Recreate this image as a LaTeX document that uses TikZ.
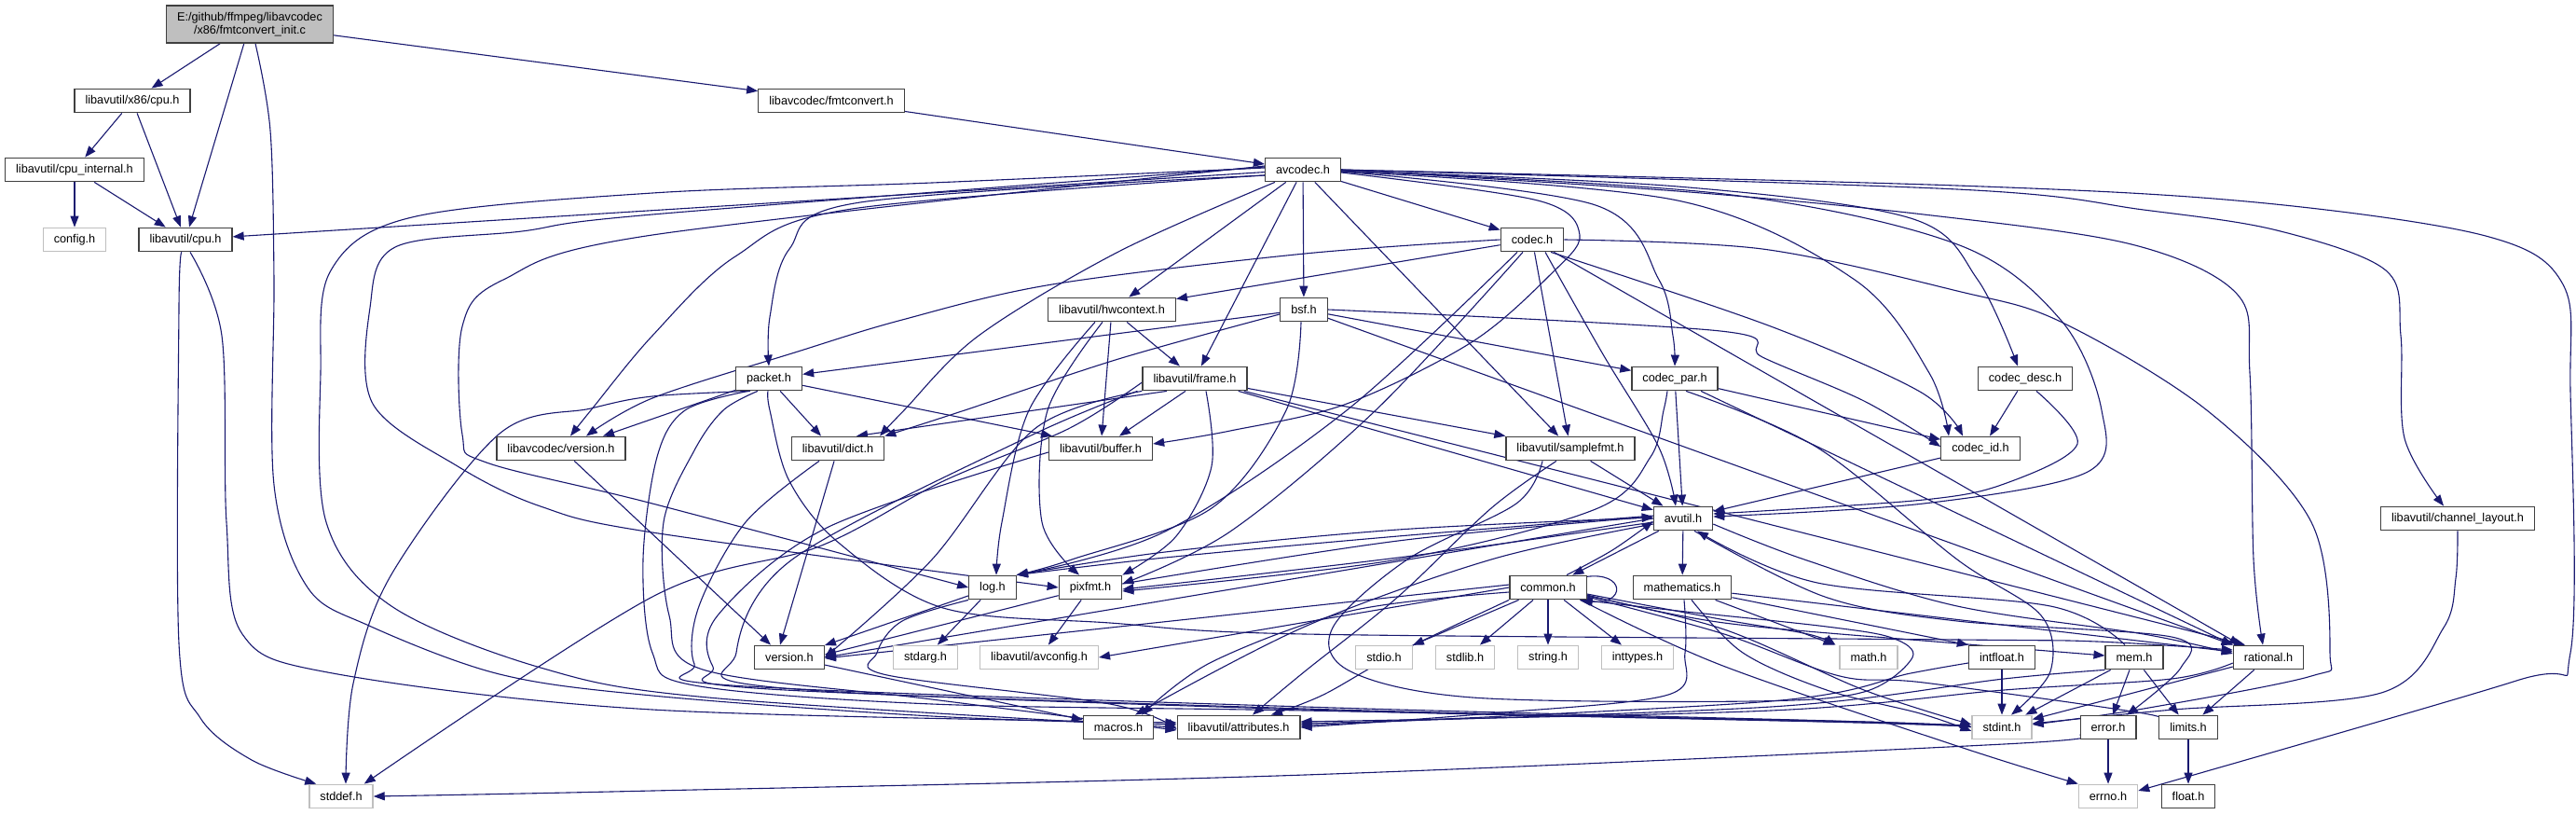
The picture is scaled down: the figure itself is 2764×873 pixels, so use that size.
\documentclass[tikz,border=0pt]{standalone}
\usepackage{fontspec}
\setmainfont{Liberation Sans}
\usetikzlibrary{arrows.meta,backgrounds}
\definecolor{edgec}{HTML}{191970}
\definecolor{nfgray}{HTML}{BFBFBF}
\pgfdeclarelayer{edgelayer}
\pgfsetlayers{background,edgelayer,main}
\newcommand\edgeroute[1]{\draw[e] plot[smooth,tension=.55] coordinates {#1};}
\begin{document}
\begin{tikzpicture}[x=1pt,y=-1pt,
  nd/.style={draw=black!75, line width=1.3pt, fill=white, inner xsep=11.5pt, inner ysep=0pt, minimum height=25.5pt, font=\fontsize{12.7pt}{14.5pt}\selectfont},
  gn/.style={nd, draw=nfgray},
  e/.style={draw=edgec, line width=1.1pt, -{Triangle[length=12pt,width=9pt]}},
]
\useasboundingbox (0,0) rectangle (2764,873);
\begin{pgfonlayer}{background}
\fill[white] (0,0) rectangle (2764,873);
\end{pgfonlayer}

% nodes
\node[nd, fill=nfgray, align=center, minimum height=40pt] (R) at (268,26) {E:/github/ffmpeg/libavcodec\\/x86/fmtconvert\_init.c};
\node[nd] (x86) at (142,108) {libavutil/x86/cpu.h};
\node[nd] (cpuint) at (80,182) {libavutil/cpu\_internal.h};
\node[gn] (config) at (80,257) {config.h};
\node[nd] (cpu) at (199,257) {libavutil/cpu.h};
\node[nd] (fmtc) at (892,108) {libavcodec/fmtconvert.h};
\node[nd] (A) at (1398,182) {avcodec.h};
\node[nd] (codec) at (1644,257) {codec.h};
\node[nd] (hw) at (1193,332) {libavutil/hwcontext.h};
\node[nd] (bsf) at (1399,332) {bsf.h};
\node[nd] (packet) at (825,406) {packet.h};
\node[nd] (frame) at (1282,406) {libavutil/frame.h};
\node[nd] (cpar) at (1797,406) {codec\_par.h};
\node[nd] (cdesc) at (2173,406) {codec\_desc.h};
\node[nd] (lcver) at (602,481) {libavcodec/version.h};
\node[nd] (dict) at (899,481) {libavutil/dict.h};
\node[nd] (buffer) at (1181,481) {libavutil/buffer.h};
\node[nd] (sfmt) at (1685,481) {libavutil/samplefmt.h};
\node[nd] (cid) at (2125,481) {codec\_id.h};
\node[nd] (avutil) at (1806,556) {avutil.h};
\node[nd] (chl) at (2637,556) {libavutil/channel\_layout.h};
\node[nd] (log) at (1065,630) {log.h};
\node[nd] (pixfmt) at (1170,630) {pixfmt.h};
\node[nd] (common) at (1661,630) {common.h};
\node[nd] (mathm) at (1805,630) {mathematics.h};
\node[nd] (uver) at (847,705) {version.h};
\node[gn] (stdarg) at (993,705) {stdarg.h};
\node[gn] (avconfig) at (1115,705) {libavutil/avconfig.h};
\node[gn] (stdio) at (1485,705) {stdio.h};
\node[gn] (stdlib) at (1572,705) {stdlib.h};
\node[gn] (string) at (1661,705) {string.h};
\node[gn] (inttypes) at (1757,705) {inttypes.h};
\node[gn] (mathh) at (2005,705) {math.h};
\node[nd] (intfloat) at (2148,705) {intfloat.h};
\node[nd] (mem) at (2290,705) {mem.h};
\node[nd] (rational) at (2434,705) {rational.h};
\node[nd] (macros) at (1200,780) {macros.h};
\node[nd] (attr) at (1329,780) {libavutil/attributes.h};
\node[gn] (stdint) at (2148,780) {stdint.h};
\node[nd] (error) at (2262,780) {error.h};
\node[nd] (limits) at (2348,780) {limits.h};
\node[gn] (stddef) at (366,854) {stddef.h};
\node[gn] (errno) at (2262,854) {errno.h};
\node[nd] (float) at (2348,854) {float.h};

\begin{pgfonlayer}{edgelayer}
% root
\draw[e] (R) -- (x86);
\draw[e] (R) -- (cpu);
\edgeroute{([xshift=6pt]R.south) (290,140) (294,300) (294,520) (330,630) (396,671) (536,723) (700,746) (1000,768) ([yshift=3pt]attr.west)}
\draw[e] (R) -- (fmtc);
\draw[e] (x86) -- (cpuint);
\draw[e] (x86) -- (cpu);
\draw[e] (cpuint) -- (config);
\draw[e] (cpuint) -- (cpu);
\edgeroute{([xshift=-4pt]cpu.south) (192,330) (192,690) (215,770) (270,815) ([xshift=8pt]stddef.north west)}
\edgeroute{([xshift=5pt]cpu.south) (238,360) (243,560) (260,680) (357,722) (700,761) ([yshift=5pt]attr.west)}
\draw[e] (fmtc) -- (A);
% avcodec.h
\draw[e] (A) -- (cpu);
\edgeroute{([yshift=2pt]A.west) (1000,196) (700,207) (442,233) (355,290) (344,400) (350,560) (420,650) (580,716) (760,748) (attr.west)}
\edgeroute{([yshift=3pt]A.west) (700,230) (560,248) (424,265) (397,330) (400,433) (491,500) (580,543) (700,571) (pixfmt.west)}
\edgeroute{([yshift=4pt]A.west) (700,252) (540,300) (496,350) (496,466) (522,496) (700,540) (log.west)}
\edgeroute{([yshift=-6pt]A.west) (923,217) (847,267) (826,340) (packet.north)}
\edgeroute{([yshift=-6pt]A.west) (914,224) (789,275) (700,360) (634,440) ([xshift=10pt]lcver.north)}
\draw[e] (A) -- (hw);
\draw[e] (A) -- (frame);
\draw[e] (A) -- (bsf);
\edgeroute{([xshift=-30pt]A.south) (1200,270) (1050,360) (970,440) ([xshift=45pt]dict.north)}
\edgeroute{([yshift=-3pt]A.east) (1650,215) (1695,252) (1663,295) (1579,367) (1445,433) (1320,462) ([yshift=5pt]buffer.east)}
\draw[e] (A) -- (codec);
\draw[e] (A) -- (sfmt);
\edgeroute{([yshift=-2pt]A.east) (1712,220) (1780,300) (1795,360) (cpar.north)}
\edgeroute{([yshift=-1pt]A.east) (1800,200) (2050,234) (2122,300) ([xshift=-8pt]cdesc.north)}
\edgeroute{([yshift=-2pt]A.east) (1800,215) (1990,300) (2070,400) ([xshift=-34pt]cid.north)}
\edgeroute{([yshift=-1pt]A.east) (1850,208) (2100,262) (2211,343) (2255,440) (2240,506) (2064,540) ([yshift=2pt]avutil.east)}
\edgeroute{(A.east) (1800,205) (2064,230) (2287,262) (2400,315) (2414,400) (2418,600) ([xshift=-6pt]rational.north)}
\edgeroute{(A.east) (2100,203) (2300,225) (2443,247) (2560,290) (2576,360) (2580,470) ([xshift=-15pt]chl.north)}
\edgeroute{(A.east) (2100,199) (2421,217) (2667,253) (2750,305) (2758,420) (2758,700) (2700,730) ([yshift=6pt]errno.east)}
% codec.h
\draw[e] (codec) -- (hw);
\edgeroute{(codec.west) (1400,272) (1129,305) (968,343) (856,377) (700,427) ([xshift=27pt]lcver.north)}
\draw[e] (codec) -- (sfmt);
\edgeroute{([xshift=-16pt]codec.south) (1445,440) (1250,570) (log.north east)}
\edgeroute{([xshift=-10pt]codec.south) (1476,440) (1320,570) ([yshift=4pt]pixfmt.east)}
\edgeroute{([xshift=14pt]codec.south) (1720,380) (1780,480) ([xshift=-8pt]avutil.north)}
\draw[e] (codec) -- ([xshift=-30pt]rational.north);
\edgeroute{(codec.east) (1891,267) (2100,312) (2211,345) (2368,440) (2480,560) (2500,700) (2480,725) (2300,760) ([yshift=3pt]stdint.east)}
\edgeroute{([xshift=20pt]codec.south) (1900,350) (2060,420) ([xshift=-19pt]cid.north)}
% bsf.h
\draw[e] (bsf) -- (packet);
\edgeroute{([yshift=-5pt]bsf.west) (1200,385) (1035,440) (dict.north east)}
\edgeroute{([xshift=-3pt]bsf.south) (1380,440) (1300,545) (1150,600) (log.north east)}
\draw[e] (bsf) -- (cpar);
\edgeroute{(bsf.east) (1846,355) (1891,383) (2000,430) ([yshift=2pt]cid.west)}
\draw[e] (bsf) -- (rational.north west);
% hwcontext.h
\draw[e] (hw) -- (buffer);
\draw[e] (hw) -- (frame);
\edgeroute{([xshift=-18pt]hw.south) (1104,440) (1075,560) ([xshift=4pt]log.north)}
\edgeroute{([xshift=-10pt]hw.south) (1124,440) (1118,560) ([xshift=-12pt]pixfmt.north)}
% packet.h
\draw[e] (packet) -- ([xshift=45pt]lcver.north);
\draw[e] (packet) -- ([xshift=-18pt]dict.north);
\draw[e] (packet) -- ([xshift=-52pt]buffer.north);
\edgeroute{([xshift=-20pt]packet.south) (700,425) (634,438) (536,465) (420,616) (379,733) ([xshift=5pt]stddef.north)}
\edgeroute{([xshift=-1pt]packet.south) (826,440) (847,516) (901,583) (1012,652) (1191,668) (1400,680) (2100,686) (2250,688) ([yshift=8pt]rational.west)}
\edgeroute{([xshift=-12pt]packet.south) (776,440) (745,483) (712,560) (718,660) (754,718) (1000,750) ([yshift=-3pt]attr.west)}
\edgeroute{([xshift=-22pt]packet.south) (735,440) (705,490) (690,600) (700,700) (745,735) (1000,755) (1400,762) (2000,774) (stdint.west)}
% dict.h
\draw[e] (dict) -- ([xshift=-10pt]uver.north);
\edgeroute{([xshift=-20pt]dict.south) (800,560) (750,650) (745,712) (785,735) (1400,758) (2000,774) (stdint.west)}
% buffer.h
\edgeroute{([yshift=-4pt]buffer.west) (887,566) (770,660) (765,715) (810,738) (1400,760) (2000,775) (stdint.west)}
% frame.h
\draw[e] ([xshift=-10pt]frame.south) -- ([xshift=20pt]buffer.north);
\draw[e] ([xshift=-30pt]frame.south) -- ([xshift=20pt]dict.north);
\draw[e] (frame) -- (avutil);
\draw[e] (frame) -- (sfmt.north west);
\draw[e] (frame) -- ([xshift=-25pt]rational.north);
\edgeroute{([xshift=12pt]frame.south) (1300,500) (1262,575) (pixfmt.north east)}
\edgeroute{(frame.south west) (1110,460) (1000,600) (uver.east)}
\edgeroute{([yshift=-4pt]frame.west) (1146,460) (1012,516) (879,586) (700,640) ([xshift=-10pt]stddef.north east)}
\edgeroute{([xshift=-5pt]frame.south west) (1100,470) (850,600) (790,700) (830,737) (1400,761) (2000,775) (stdint.west)}
% codec_par.h
\draw[e] (cpar) -- (avutil);
\draw[e] (cpar) -- (cid);
\draw[e] (cpar) -- (rational.north west);
\edgeroute{([xshift=-8pt]cpar.south) (1785,440) (1771,490) (1712,546) (1500,600) ([yshift=-4pt]pixfmt.east)}
\edgeroute{([xshift=12pt]cpar.south) (1950,480) (2100,600) (2190,660) (2200,720) ([xshift=10pt]stdint.north)}
% codec_desc.h, codec_id.h
\draw[e] (cdesc) -- ([xshift=10pt]cid.north);
\edgeroute{([xshift=12pt]cdesc.south) (2229,476) (2153,518) (2064,536) ([yshift=5pt]avutil.east)}
\draw[e] (cid) -- (avutil);
% libavcodec/version.h
\draw[e] (lcver) -- ([xshift=-20pt]uver.north);
% samplefmt.h
\draw[e] (sfmt) -- (avutil);
\edgeroute{([xshift=-15pt]sfmt.south) (1600,545) (1500,640) (1400,720) ([xshift=15pt]attr.north)}
\edgeroute{([xshift=-30pt]sfmt.south) (1627,540) (1510,600) (1430,673) (1449,720) (1580,748) (1880,752) (2000,742) (2052,705) (2030,684) (1960,672) (1800,655) ([xshift=-6pt]common.south east)}
% avutil.h
\draw[e] (avutil) -- (common);
\draw[e] (avutil) -- (mathm);
\edgeroute{([yshift=3pt]avutil.west) (1500,575) (1250,598) (log.north east)}
\edgeroute{([yshift=-4pt]avutil.west) (1500,598) ([yshift=-2pt]pixfmt.east)}
\draw[e] (avutil.west) -- (uver.east);
\edgeroute{([yshift=-6pt]avutil.west) (1600,600) (1400,672) ([xshift=18pt]macros.north)}
\edgeroute{([yshift=-6pt]avutil.east) (1936,600) (2100,650) (2300,680) ([yshift=4pt]rational.west)}
\edgeroute{([xshift=12pt]avutil.south) (1958,640) (2100,666) (2330,683) (2340,716) ([xshift=20pt]error.north)}
% log.h
\draw[e] (log) -- (stdarg);
\edgeroute{(log.north east) (1250,592) (1500,568) ([yshift=1pt]avutil.west)}
\edgeroute{(log.south west) (968,666) (941,700) (952,724) (1191,755) ([yshift=-2pt]attr.west)}
\draw[e] (log) -- (uver);
% pixfmt.h
\draw[e] (pixfmt) -- (avconfig);
\draw[e] (pixfmt) -- ([yshift=3pt]uver.east);
\edgeroute{([yshift=4pt]pixfmt.east) (1500,580) ([yshift=2pt]avutil.west)}
% common.h
\draw[e] (common) -- (stdio);
\draw[e] (common) -- (stdlib);
\draw[e] (common) -- (string);
\draw[e] (common) -- (inttypes);
\edgeroute{([yshift=-7pt]common.east) (1846,664) (1940,680) ([xshift=-4pt]mathh.north west)}
\edgeroute{([yshift=-8pt]common.east) (1850,668) (2100,690) ([yshift=2pt]mem.west)}
\edgeroute{([yshift=-9pt]common.east) (1850,675) (2000,740) ([yshift=3pt]stdint.west)}
\edgeroute{([xshift=-7pt]common.south east) (1846,713) (2100,800) (errno.north west)}
\edgeroute{([yshift=-10pt]common.east) (1850,680) (1974,725) (2064,732) (2300,765) ([yshift=5pt]limits.west)}
\edgeroute{(common.south west) (1500,700) (1420,745) ([xshift=35pt]attr.north)}
\edgeroute{([yshift=-5pt]common.west) (1450,655) (1300,710) ([xshift=25pt]macros.north)}
\draw[e] ([yshift=3pt]common.west) -- ([yshift=-1pt]uver.east);
\draw[e] (common.west) -- (avconfig.east);
\edgeroute{([xshift=20pt]common.north) (1730,590) ([yshift=-3pt]avutil.west)}
\draw[e] ([xshift=-2pt,yshift=-2pt]common.north east) .. controls (1745,612) and (1745,650) .. ([xshift=-8pt]common.south east);
% mathematics.h
\draw[e] (mathm) -- ([xshift=-5pt]mathh.north west);
\draw[e] (mathm) -- (intfloat.north west);
\draw[e] (mathm) -- ([yshift=6pt]rational.west);
\edgeroute{([xshift=10pt]mathm.south) (1870,700) (1960,740) (2060,765) ([yshift=-4pt]stdint.west)}
\edgeroute{([xshift=2pt]mathm.south) (1808,700) (1790,745) (1600,765) (attr.east)}
% mem.h
\draw[e] (mem) -- (limits);
\draw[e] (mem) -- (stdint);
\draw[e] (mem) -- (error);
\edgeroute{(mem.south west) (2150,728) (1900,758) ([yshift=4pt]attr.east)}
\edgeroute{([xshift=-10pt]mem.north) (2200,650) (1950,625) ([xshift=15pt]avutil.south)}
% rational.h
\draw[e] (rational) -- (limits);
\draw[e] (rational) -- (stdint);
\edgeroute{([yshift=-6pt]rational.west) (2330,728) (2150,740) (1900,762) ([yshift=6pt]attr.east)}
% intfloat.h
\draw[e] (intfloat) -- (stdint);
\edgeroute{([yshift=-6pt]intfloat.west) (2050,722) (1900,752) ([yshift=2pt]attr.east)}
% error.h, limits.h, version.h, channel_layout.h
\draw[e] (error) -- (errno);
\edgeroute{([yshift=-8pt]error.west) (2150,798) (1400,831) (700,848) (stddef.east)}
\draw[e] (limits) -- (float);
\draw[e] (uver) -- (macros);
\edgeroute{(chl.south) (2635,620) (2622,673) (2555,743) (2332,761) ([yshift=4pt]stdint.east)}
\end{pgfonlayer}
\end{tikzpicture}
\end{document}
